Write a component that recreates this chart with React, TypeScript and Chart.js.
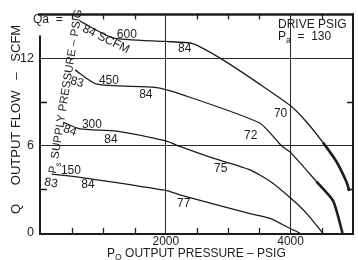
import React, { useEffect, useRef } from "react";
import { Chart, registerables } from "chart.js";

Chart.register(...registerables);

// ---- axes ----
const X_MIN = 0;
const X_MAX = 5000;
const Y_MIN = 0;
const Y_MAX = 15;
const xLabeledTicks = [2000, 4000];
const yLabeledTicks = [0, 6, 12];
const xGridValues = [2000, 4000];
const yGridValues = [6, 12];
const xMinorTicks = [500, 1000, 1500, 2500, 3000, 3500, 4500];
const yMinorTicks = [3, 9];

// ---- curves: output flow (SCFM) vs output pressure (PSIG), constant supply pressure ----
const supply600Pressure = [624, 1152, 2000, 2432, 2891, 3504, 3995, 4256, 4517, 4736, 4891, 4944];
const supply600Flow = [14.55, 13.4, 13.15, 13.0, 11.95, 10.22, 8.75, 7.62, 6.22, 4.89, 3.55, 2.89];
const supply450Pressure = [544, 893, 1827, 2227, 3504, 3851, 3995, 4411, 4680, 4832];
const supply450Flow = [11.2, 10.22, 10.0, 9.55, 7.55, 6.0, 5.55, 3.55, 2.22, 0];
const supply300Pressure = [357, 624, 1211, 2000, 2224, 2784, 3350, 3670, 4000, 4260, 4512];
const supply300Flow = [7.6, 7.15, 7.0, 6.32, 5.95, 5.1, 4.33, 3.55, 2.4, 1.33, 0];
const supply150Pressure = [171, 624, 2000, 2224, 3350, 3670, 4000, 4150];
const supply150Flow = [4.04, 3.82, 2.92, 2.62, 1.33, 1.0, 0.29, 0];

// ---- curve annotations (efficiency / supply pressure labels) ----
const noteText = ["600", "84", "450", "83", "84", "300", "84", "84", "150", "83", "84", "70", "72", "75", "77", "84 SCFM"];
const noteX = [1376, 2304, 1088, 576, 1680, 816, 464, 1120, 480, 160, 752, 3840, 3360, 2880, 2288, 1040];
const noteY = [13.62, 12.62, 10.49, 10.35, 9.49, 7.42, 7.02, 6.42, 4.29, 3.42, 3.29, 8.22, 6.69, 4.42, 2.02, 13.3];
const noteAngle = [0, 0, 0, 15, 0, 0, 20, 0, 0, 10, 0, 0, 0, 0, 0, 26];

const INK = "#1c1c1c";
const FONT = '"Liberation Sans", Arial, sans-serif';

function pts(xs: number[], ys: number[]) {
  return xs.map((x, i) => ({ x, y: ys[i] }));
}

function drawSubText(ctx: CanvasRenderingContext2D, main: string, sub: string, rest: string, size: number) {
  ctx.font = `${size}px ${FONT}`;
  ctx.fillText(main, 0, 0);
  let w = ctx.measureText(main).width;
  ctx.font = `${size * 0.72}px ${FONT}`;
  ctx.fillText(sub, w, size * 0.28);
  w += ctx.measureText(sub).width;
  ctx.font = `${size}px ${FONT}`;
  ctx.fillText(rest, w, 0);
}

const overlay = {
  id: "overlay",
  afterDraw(chart: any) {
    const { ctx, chartArea: a, scales } = chart;
    const xs = scales.x;
    const ys = scales.y;
    ctx.save();
    ctx.strokeStyle = INK;
    ctx.fillStyle = INK;

    // frame
    ctx.lineWidth = 2.5;
    ctx.beginPath();
    ctx.moveTo(a.left - 3, a.top);
    ctx.lineTo(a.right + 1, a.top);
    ctx.stroke();
    ctx.lineWidth = 2;
    ctx.beginPath();
    ctx.moveTo(a.left - 1, a.top + 21);
    ctx.lineTo(a.left - 1, a.bottom + 1);
    ctx.lineTo(a.right, a.bottom + 1);
    ctx.lineTo(a.right, a.top - 1);
    ctx.stroke();

    // inner minor ticks
    ctx.lineWidth = 1.3;
    ctx.beginPath();
    xMinorTicks.forEach((v) => {
      const px = Math.round(xs.getPixelForValue(v)) + 0.5;
      ctx.moveTo(px, a.bottom);
      ctx.lineTo(px, a.bottom - 5);
      ctx.moveTo(px, a.top);
      ctx.lineTo(px, a.top + 5);
    });
    yMinorTicks.forEach((v) => {
      const py = Math.round(ys.getPixelForValue(v)) + 0.5;
      ctx.moveTo(a.left, py);
      ctx.lineTo(a.left + 6, py);
      ctx.moveTo(a.right, py);
      ctx.lineTo(a.right - 6, py);
    });
    ctx.stroke();

    // curve annotations
    ctx.textAlign = "center";
    ctx.textBaseline = "middle";
    ctx.font = `12px ${FONT}`;
    noteText.forEach((t, i) => {
      ctx.save();
      ctx.translate(xs.getPixelForValue(noteX[i]), ys.getPixelForValue(noteY[i]));
      ctx.rotate((noteAngle[i] * Math.PI) / 180);
      ctx.fillText(t, 0, 0);
      ctx.restore();
    });

    // Qa =
    ctx.textAlign = "left";
    ctx.textBaseline = "alphabetic";
    ctx.font = `12px ${FONT}`;
    ctx.fillText("Qa  =", 33, 23);

    // drive pressure box
    ctx.font = `12px ${FONT}`;
    ctx.fillText("DRIVE PSIG", 278, 28);
    ctx.save();
    ctx.translate(278, 40);
    drawSubText(ctx, "P", "a", "  =  130", 12);
    ctx.restore();

    // slanted supply pressure legend
    ctx.save();
    ctx.translate(56, 174);
    ctx.rotate((-81 * Math.PI) / 180);
    drawSubText(ctx, "P", "s", " SUPPLY PRESSURE – PSIG", 11.5);
    ctx.restore();

    // y axis title
    ctx.save();
    ctx.translate(20, 105);
    ctx.rotate(-Math.PI / 2);
    ctx.textAlign = "center";
    ctx.font = `13px ${FONT}`;
    ctx.fillText("OUTPUT FLOW   –   SCFM", 0, 0);
    ctx.restore();
    ctx.save();
    ctx.translate(20, 209);
    ctx.rotate(-Math.PI / 2);
    ctx.textAlign = "center";
    ctx.font = `13px ${FONT}`;
    ctx.fillText("Q", 0, 0);
    ctx.restore();

    // x axis title
    ctx.save();
    ctx.translate(107, 257);
    drawSubText(ctx, "P", "O", " OUTPUT PRESSURE – PSIG", 12);
    ctx.restore();

    ctx.restore();
  },
};

export default function App() {
  const ref = useRef<HTMLCanvasElement | null>(null);
  useEffect(() => {
    if (!ref.current) return;
    const line = (xs: number[], ys: number[], thickFrom: number) => ({
      data: pts(xs, ys),
      borderColor: INK,
      borderWidth: 1.3,
      pointRadius: 0,
      fill: false,
      tension: 0.2,
      segment: {
        borderWidth: (c: any) => (c.p0DataIndex >= thickFrom ? 2.6 : 1.3),
      },
    });
    const chart = new Chart(ref.current, {
      type: "line",
      data: {
        datasets: [
          line(supply600Pressure, supply600Flow, 8),
          line(supply450Pressure, supply450Flow, 7),
          line(supply300Pressure, supply300Flow, 99),
          line(supply150Pressure, supply150Flow, 99),
        ],
      },
      options: {
        animation: false,
        responsive: false,
        devicePixelRatio: 1,
        layout: { padding: { left: 0, right: 5, top: 7, bottom: 0 } },
        plugins: { legend: { display: false }, tooltip: { enabled: false } },
        scales: {
          x: {
            type: "linear",
            min: X_MIN,
            max: X_MAX,
            afterFit: (s: any) => {
              s.height = 27;
            },
            border: { display: false },
            grid: {
              drawTicks: false,
              lineWidth: 1,
              color: (c: any) => (c.tick && xGridValues.includes(c.tick.value) ? "#2a2a2a" : "rgba(0,0,0,0)"),
            },
            ticks: {
              stepSize: 500,
              autoSkip: false,
              maxRotation: 0,
              padding: 1,
              color: INK,
              font: { family: FONT, size: 12 },
              callback: (v: any) => (xLabeledTicks.includes(Number(v)) ? String(v) : ""),
            },
          },
          y: {
            type: "linear",
            min: Y_MIN,
            max: Y_MAX,
            afterFit: (s: any) => {
              s.width = 41;
            },
            border: { display: false },
            grid: {
              drawTicks: false,
              lineWidth: 1,
              color: (c: any) => (c.tick && yGridValues.includes(c.tick.value) ? "#2a2a2a" : "rgba(0,0,0,0)"),
            },
            ticks: {
              stepSize: 3,
              autoSkip: false,
              padding: 7,
              color: INK,
              font: { family: FONT, size: 12.5 },
              callback: (v: any) => (yLabeledTicks.includes(Number(v)) ? String(v) : ""),
            },
          },
        },
      },
      plugins: [overlay],
    });
    return () => chart.destroy();
  }, []);
  return (
    <div style={{ position: "absolute", left: 0, top: 0, width: 358, height: 260, background: "#fff" }}>
      <canvas ref={ref} width={358} height={260} style={{ display: "block" }} />
    </div>
  );
}
